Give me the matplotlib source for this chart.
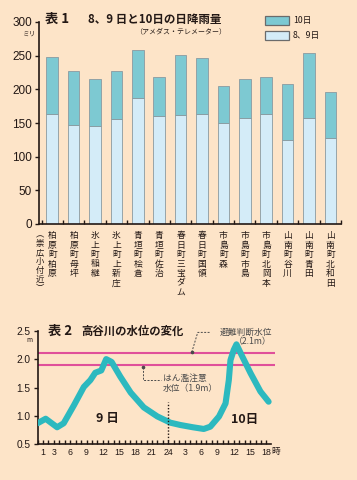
import matplotlib
matplotlib.use("Agg")
import matplotlib.pyplot as plt
from matplotlib.patches import Rectangle

plt.rcParams['font.family'] = ['Noto Sans CJK JP', 'DejaVu Sans']

BG = '#fde4c8'
TEAL = '#7dc9d2'
LIGHT = '#d4ecf8'
EDGE = '#8a9aa0'
LINE = '#2cb9bf'
PINK = '#e0509a'
TXT = '#231815'

# ---- Data: chart 1 ----
stations = ['柏原町柏原', '柏原町母坪', '氷上町稲継', '氷上町上新庄', '青垣町桧倉', '青垣町佐治',
            '春日町三宝ダム', '春日町国領', '市島町森', '市島町市島', '市島町北岡本',
            '山南町谷川', '山南町青田', '山南町北和田']
rain_8_9 = [164, 147, 146, 156, 187, 160, 162, 164, 150, 157, 164, 125, 157, 127]
rain_total = [248, 227, 215, 227, 258, 218, 251, 246, 205, 215, 218, 208, 254, 196]
rain_10 = [t - a for t, a in zip(rain_total, rain_8_9)]
y1_ticks = [0, 50, 100, 150, 200, 250, 300]

# ---- Data: chart 2 ----
hours = [0, 1.5, 3.6, 4.8, 6.7, 8.5, 9.7, 10.6, 11.7, 12.6, 13.6, 15.2, 17.1, 19.5, 22.0,
         24.4, 26.2, 28.5, 30.5, 31.7, 33.3, 34.5, 35.1, 35.4, 36.0, 36.5, 37.6, 39.1, 40.9, 42.4]
level = [0.87, 0.95, 0.80, 0.87, 1.19, 1.51, 1.63, 1.76, 1.80, 2.00, 1.95, 1.69, 1.41, 1.15, 0.99,
         0.88, 0.84, 0.80, 0.77, 0.81, 0.99, 1.22, 1.63, 1.98, 2.16, 2.26, 2.04, 1.75, 1.43, 1.25]
x2_tick_pos = [1, 3, 6, 9, 12, 15, 18, 21, 24, 27, 30, 33, 36, 39, 42]
x2_tick_lab = ['1', '3', '6', '9', '12', '15', '18', '21', '24', '3', '6', '9', '12', '15', '18']
y2_ticks = [0.5, 1.0, 1.5, 2.0, 2.5]
evac_level = 2.1
warn_level = 1.9

W, H = 357, 480
fig = plt.figure(figsize=(W / 100, H / 100), dpi=100)
fig.patch.set_facecolor(BG)

def box(l, t, r, b):
    return [l / W, 1 - b / H, (r - l) / W, (b - t) / H]

NUMFONT = ['Liberation Sans Narrow', 'Liberation Sans', 'DejaVu Sans']

# ================= Chart 1 =================
ax1 = fig.add_axes(box(39, 22, 341, 224))
ax1.set_facecolor(BG)
x = list(range(len(stations)))
ax1.bar(x, rain_8_9, width=0.54, color=LIGHT, edgecolor=EDGE, linewidth=0.6)
ax1.bar(x, rain_10, bottom=rain_8_9, width=0.54, color=TEAL, edgecolor=EDGE, linewidth=0.6)
ax1.set_xlim(-0.62, 13.5)
ax1.set_ylim(0, 300)
for s in ['top', 'right']:
    ax1.spines[s].set_visible(False)
for s in ['left', 'bottom']:
    ax1.spines[s].set_linewidth(1.2)
    ax1.spines[s].set_color(TXT)
ax1.set_yticks(y1_ticks)
ax1.set_yticklabels([str(v) for v in y1_ticks], family=NUMFONT, fontsize=8.5, color=TXT)
ax1.tick_params(axis='y', direction='out', length=3, width=1, pad=2, color=TXT)
ax1.set_xticks(x)
ax1.set_xticklabels(['\n'.join(s) for s in stations], fontsize=6.3, color=TXT,
                    linespacing=1.08, va='top')
ax1.tick_params(axis='x', which='major', length=0, pad=5)
ax1.set_xticks([i + 0.5 for i in range(-1, 14)], minor=True)
ax1.tick_params(axis='x', which='minor', direction='in', length=3, width=1, color=TXT)
ax1.text(-0.56, -9, '\n'.join('︵崇広小付近︶'), fontsize=6.0, color=TXT, ha='center', va='top',
         linespacing=1.0)
ax1.text(-1.05, 289, 'ミリ', fontsize=4.8, color=TXT, ha='center', va='top')

fig.text(45 / W, 1 - 19 / H, '表 1', fontsize=9.5, fontweight='bold', color=TXT, va='center')
fig.text(88 / W, 1 - 19 / H, '8、9 日と10日の日降雨量', fontsize=8.3, fontweight='bold',
         color=TXT, va='center')
fig.text(226 / W, 1 - 31 / H, '（アメダス・テレメーター）', fontsize=5.0, color=TXT,
         va='center', ha='right')
# legend
for (t, b), col, lab in [((16, 25), TEAL, '10日'), ((31, 39.5), LIGHT, '8、9日')]:
    fig.patches.append(Rectangle((265 / W, 1 - b / H), 24 / W, (b - t) / H,
                                 transform=fig.transFigure, facecolor=col,
                                 edgecolor='#6b6b6b', linewidth=0.9))
    fig.text(293 / W, 1 - (t + b) / 2 / H, lab, fontsize=6.3, color=TXT, va='center')

# ================= Chart 2 =================
ax2 = fig.add_axes(box(37.5, 330.7, 274.6, 444.3))
ax2.set_facecolor('none')
ax2.set_xlim(0, 43.5)
ax2.set_ylim(0.5, 2.5)
ax2.axhline(evac_level, color=PINK, lw=1.5, zorder=2)
ax2.axhline(warn_level, color=PINK, lw=1.5, zorder=2)
ax2.plot(hours, level, color=LINE, lw=4.4, solid_capstyle='round', solid_joinstyle='round',
         zorder=3)
ax2.plot([24, 24], [0.5, 1.25], color=TXT, lw=1, ls=(0, (1, 1.3)), zorder=4)
for s in ['top', 'right']:
    ax2.spines[s].set_visible(False)
for s in ['left', 'bottom']:
    ax2.spines[s].set_linewidth(1.2)
    ax2.spines[s].set_color(TXT)
ax2.spines['bottom'].set_bounds(0, 42.8)
ax2.set_yticks(y2_ticks)
ax2.set_yticklabels(['%.1f' % v for v in y2_ticks], family=NUMFONT, fontsize=7.3, color=TXT)
ax2.tick_params(axis='y', direction='out', length=3, width=1, pad=2, color=TXT)
ax2.set_xticks(x2_tick_pos)
ax2.set_xticklabels(x2_tick_lab, family=NUMFONT, fontsize=6.3, color=TXT)
ax2.set_xticks(range(0, 43), minor=True)
ax2.tick_params(axis='x', which='both', direction='in', length=3, width=1, pad=3, color=TXT)
ax2.text(42.9, 0.5 - 0.135, '時', fontsize=6.3, color=TXT, va='center', ha='left')
ax2.text(-1.45, 2.33, 'm', fontsize=4.8, color=TXT, ha='center', va='center')

ax2.text(12.8, 0.95, '9 日', fontsize=9, fontweight='bold', color=TXT, ha='center', va='center')
ax2.text(38.0, 0.93, '10日', fontsize=9, fontweight='bold', color=TXT, ha='center', va='center')

fig.text(48 / W, 1 - 331 / H, '表 2', fontsize=9.5, fontweight='bold', color=TXT, va='center')
fig.text(81 / W, 1 - 331 / H, '高谷川の水位の変化', fontsize=8.2, fontweight='bold', color=TXT,
         va='center')

# annotations
ax2.text(43.0, 2.47, '避難判断水位', fontsize=6.3, color='#4a4a4a', ha='right', va='center')
ax2.text(43.0, 2.30, '（2.1m）', fontsize=6.3, color='#4a4a4a', ha='right', va='center')
ax2.plot([28.3, 29.4, 31.6], [2.12, 2.47, 2.47], color='#4a4a4a', lw=0.7, ls=(0, (2, 1.5)))
ax2.plot([28.3], [2.12], marker='o', ms=1.6, color='#4a4a4a')

ax2.text(23.0, 1.66, 'はん濫注意', fontsize=6.3, color='#4a4a4a', ha='left', va='center')
ax2.text(23.0, 1.49, '水位（1.9m）', fontsize=6.3, color='#4a4a4a', ha='left', va='center')
ax2.plot([19.3, 19.3, 22.7], [1.86, 1.64, 1.64], color='#4a4a4a', lw=0.7, ls=(0, (2, 1.5)))
ax2.plot([19.3], [1.86], marker='o', ms=1.6, color='#4a4a4a')

fig.savefig('out.png', dpi=100, facecolor=BG)
